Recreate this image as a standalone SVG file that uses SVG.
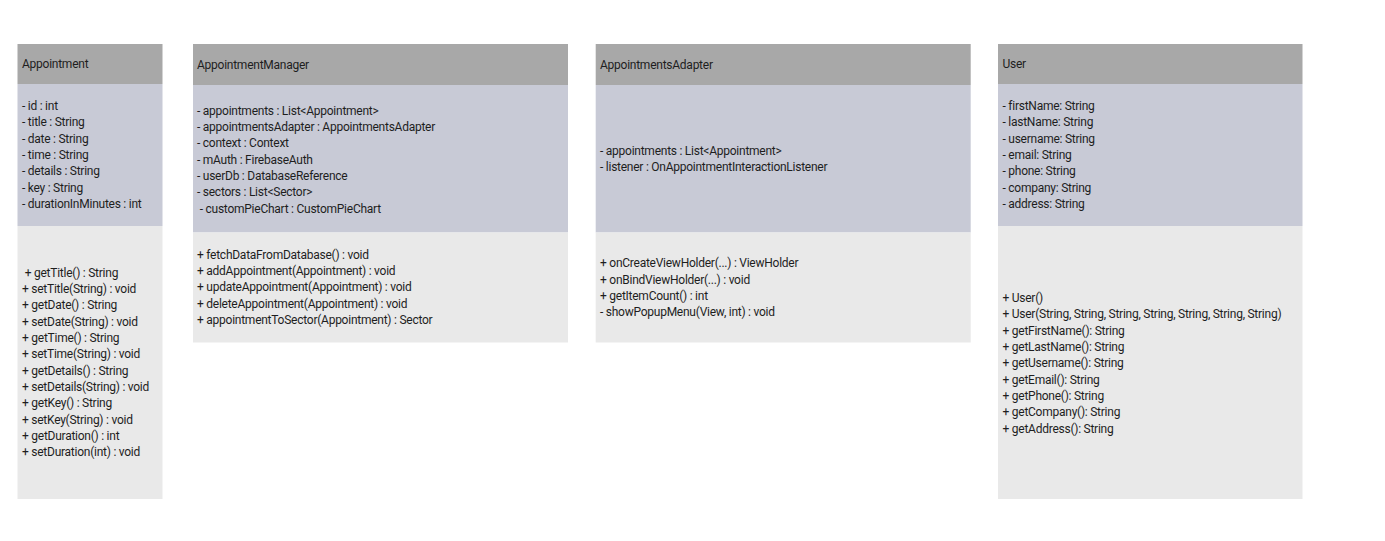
<svg xmlns="http://www.w3.org/2000/svg" width="1385" height="541" viewBox="0 0 1385 541">
  <style>
    .hdr { fill: #a8a8a8; }
    .attr { fill: #c8cad6; }
    .meth { fill: #e9e9e9; }
    text { font-family: Roboto, Inter, "Liberation Sans", sans-serif; font-size: 12px; letter-spacing: -0.25px; fill: #1e1e1e; }
  </style>
  <rect x="0" y="0" width="1385" height="541" fill="#ffffff"/>

  <g id="appointment">
    <rect class="hdr" x="17.5" y="44" width="145" height="40"/>
    <rect class="attr" x="17.5" y="84" width="145" height="142"/>
    <rect class="meth" x="17.5" y="226" width="145" height="273"/>
    <text x="22" y="68">Appointment</text>
    <text x="22" y="110">- id : int</text>
    <text x="22" y="126.3">- title : String</text>
    <text x="22" y="142.6">- date : String</text>
    <text x="22" y="159">- time : String</text>
    <text x="22" y="175.3">- details : String</text>
    <text x="22" y="191.6">- key : String</text>
    <text x="22" y="208">- durationInMinutes : int</text>
    <text x="22" y="276.5" xml:space="preserve"> + getTitle() : String</text>
    <text x="22" y="292.8">+ setTitle(String) : void</text>
    <text x="22" y="309.1">+ getDate() : String</text>
    <text x="22" y="325.5">+ setDate(String) : void</text>
    <text x="22" y="341.8">+ getTime() : String</text>
    <text x="22" y="358.1">+ setTime(String) : void</text>
    <text x="22" y="374.5">+ getDetails() : String</text>
    <text x="22" y="390.8">+ setDetails(String) : void</text>
    <text x="22" y="407.1">+ getKey() : String</text>
    <text x="22" y="423.5">+ setKey(String) : void</text>
    <text x="22" y="439.8">+ getDuration() : int</text>
    <text x="22" y="456.1">+ setDuration(int) : void</text>
  </g>

  <g id="appointment-manager">
    <rect class="hdr" x="193" y="44" width="375" height="41"/>
    <rect class="attr" x="193" y="85" width="375" height="147.5"/>
    <rect class="meth" x="193" y="232.5" width="375" height="110"/>
    <text x="197" y="69">AppointmentManager</text>
    <text x="197" y="114.5">- appointments : List&lt;Appointment&gt;</text>
    <text x="197" y="130.8">- appointmentsAdapter : AppointmentsAdapter</text>
    <text x="197" y="147.1">- context : Context</text>
    <text x="197" y="163.5">- mAuth : FirebaseAuth</text>
    <text x="197" y="179.8">- userDb : DatabaseReference</text>
    <text x="197" y="196.1">- sectors : List&lt;Sector&gt;</text>
    <text x="197" y="212.5" xml:space="preserve"> - customPieChart : CustomPieChart</text>
    <text x="197" y="258.5">+ fetchDataFromDatabase() : void</text>
    <text x="197" y="274.8">+ addAppointment(Appointment) : void</text>
    <text x="197" y="291.1">+ updateAppointment(Appointment) : void</text>
    <text x="197" y="307.5">+ deleteAppointment(Appointment) : void</text>
    <text x="197" y="323.8">+ appointmentToSector(Appointment) : Sector</text>
  </g>

  <g id="appointments-adapter">
    <rect class="hdr" x="595.7" y="44" width="375" height="41"/>
    <rect class="attr" x="595.7" y="85" width="375" height="147.5"/>
    <rect class="meth" x="595.7" y="232.5" width="375" height="110"/>
    <text x="600" y="69">AppointmentsAdapter</text>
    <text x="600" y="155">- appointments : List&lt;Appointment&gt;</text>
    <text x="600" y="171.3">- listener : OnAppointmentInteractionListener</text>
    <text x="600" y="267.3">+ onCreateViewHolder(...) : ViewHolder</text>
    <text x="600" y="283.6">+ onBindViewHolder(...) : void</text>
    <text x="600" y="299.9">+ getItemCount() : int</text>
    <text x="600" y="316.3">- showPopupMenu(View, int) : void</text>
  </g>

  <g id="user">
    <rect class="hdr" x="998" y="44" width="304.5" height="40"/>
    <rect class="attr" x="998" y="84" width="304.5" height="142"/>
    <rect class="meth" x="998" y="226" width="304.5" height="273"/>
    <text x="1002.5" y="68">User</text>
    <text x="1002.5" y="110">- firstName: String</text>
    <text x="1002.5" y="126.3">- lastName: String</text>
    <text x="1002.5" y="142.6">- username: String</text>
    <text x="1002.5" y="159">- email: String</text>
    <text x="1002.5" y="175.3">- phone: String</text>
    <text x="1002.5" y="191.6">- company: String</text>
    <text x="1002.5" y="208">- address: String</text>
    <text x="1002.5" y="302">+ User()</text>
    <text x="1002.5" y="318.3">+ User(String, String, String, String, String, String, String)</text>
    <text x="1002.5" y="334.6">+ getFirstName(): String</text>
    <text x="1002.5" y="351">+ getLastName(): String</text>
    <text x="1002.5" y="367.3">+ getUsername(): String</text>
    <text x="1002.5" y="383.6">+ getEmail(): String</text>
    <text x="1002.5" y="400">+ getPhone(): String</text>
    <text x="1002.5" y="416.3">+ getCompany(): String</text>
    <text x="1002.5" y="432.6">+ getAddress(): String</text>
  </g>

  <g id="connectors"></g>
</svg>
